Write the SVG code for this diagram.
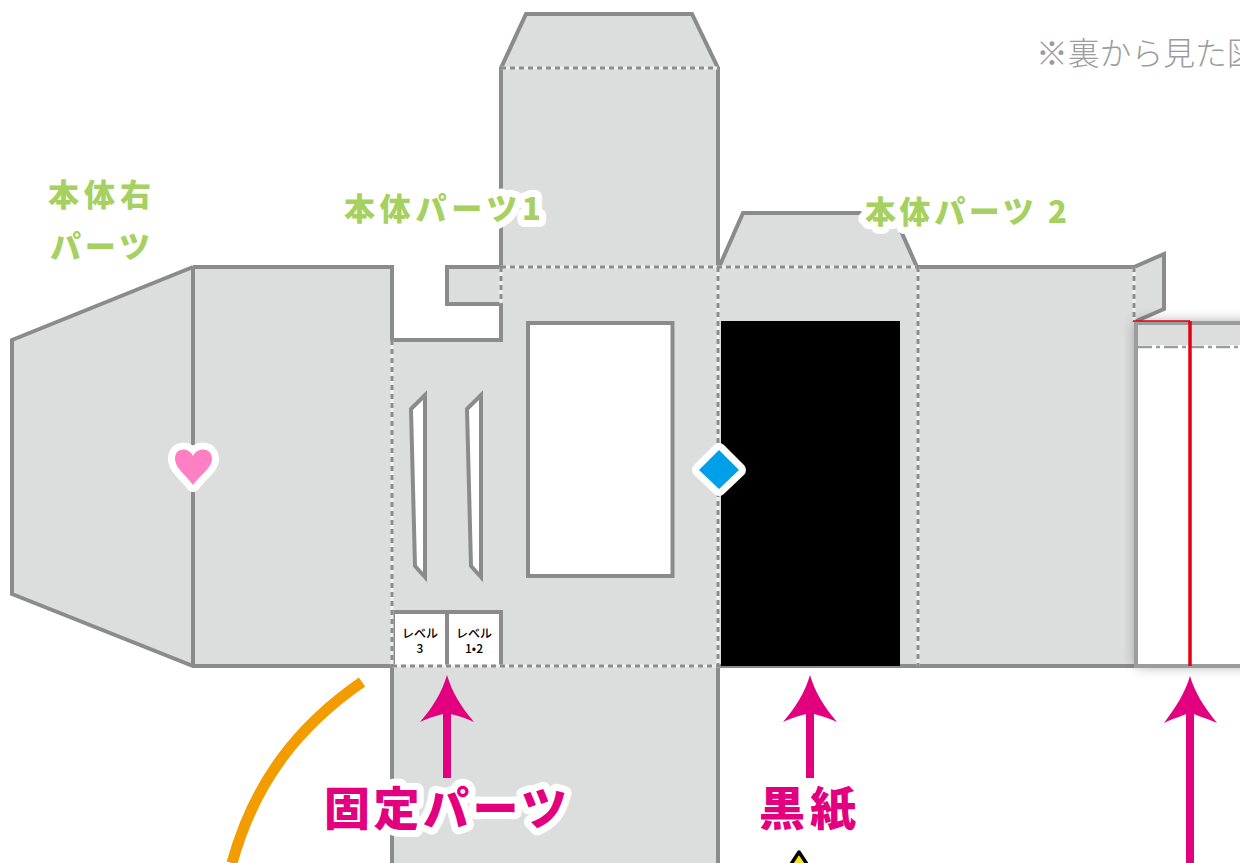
<svg xmlns="http://www.w3.org/2000/svg" width="1240" height="863" viewBox="0 0 1240 863">
<style>
.o{fill:none;stroke:#8b8b8b;stroke-width:4;stroke-linejoin:miter}
.f{fill:#dcdddd}
.w{fill:#fff;stroke:#8b8b8b;stroke-width:4}
.d{fill:none;stroke:#efefef;stroke-width:3}
.d2{fill:none;stroke:#8b8b8b;stroke-width:3;stroke-dasharray:5 4}
.t{font-family:"Noto Sans CJK JP","Noto Sans",sans-serif;font-weight:900}
.g{font-size:31px;fill:#a6d161}
.m{font-size:46px;fill:#e2007f}
.h{stroke:#fff;stroke-width:14px;stroke-linejoin:round;paint-order:stroke}
.a{fill:#e2007f}
.l{font-size:12px;fill:#000;font-weight:500;text-anchor:middle}
</style>
<defs>
<filter id="s" x="-10%" y="-10%" width="120%" height="120%"><feGaussianBlur stdDeviation="7"/></filter>
<path id="ar" d="M0 0C5 17 14 32 27 47C16 42 8 40 4 39V103H-4V39C-8 40 -16 42 -27 47C-14 32 -5 17 0 0Z"/>
</defs>
<g id="body">
<path class="f" d="M12 340L193 267H392V340H501V304H447V267H501V68L526 14H692L718 68V265L743 213H893L917 267H1134L1164 254V309L1134 322V666H718V863H392V666H193L12 594Z"/>
<path class="o" d="M193 267L12 340V594L193 666H392"/>
<path class="o" d="M193 267V666"/>
<path class="o" d="M193 267H392V340H501V304H447V267H501"/>
<path class="o" d="M501 267V68L526 14H692L718 68V265H720L743 213H893L917 267H1134L1164 254V309L1134 322"/>
<path class="o" d="M392 666V863M718 666V863M720 666H1136"/>
</g>
<g id="window"><rect class="w" x="528" y="323" width="144.500" height="253"/></g>
<g id="slit-a"><path class="w" d="M411 409L425 395V577L415 566Z"/></g>
<g id="slit-b"><path class="w" d="M467 409L481 395V577L471 566Z"/></g>
<g id="level-tabs">
<path class="w" d="M393 666V612H501V666"/>
<path class="w" style="fill:none" d="M447 612V666"/>
<text class="t l"><tspan x="420" y="638">レベル</tspan><tspan x="420" y="652.500">3</tspan></text>
<text class="t l"><tspan x="474" y="638">レベル</tspan><tspan x="474" y="652.500">1•2</tspan></text>
</g>
<g id="black-paper"><rect x="721" y="321" width="179" height="345" fill="#000"/></g>
<g id="folds">
<path class="d" d="M501 68H718M392 340V666M501 267H917M501 267V304M718 267V666M918 267V666M392 666H720M1134 267V322"/>
<path class="d2" d="M501 68H718M392 340V666M501 267H917M501 267V304M718 267V666M918 267V666M392 666H720M1134 267V322"/>
</g>
<g id="right-panel">
<rect x="1136" y="322" width="120" height="344" fill="#000" opacity=".35" filter="url(#s)"/>
<rect x="1136" y="322" width="110" height="344" fill="#fff"/>
<rect x="1136" y="322" width="110" height="25" class="f"/>
<path class="o" style="stroke:#9c9c9c" d="M1246 323H1136V666H1246"/>
<path d="M1138 347H1240" stroke="#fff" stroke-width="4"/>
<path d="M1138 347H1240" stroke="#9c9c9c" stroke-width="2.500" stroke-dasharray="14 4 4 4"/>
<path d="M1133 321H1190" stroke="#e60012" stroke-width="1.500"/>
<path d="M1190 321V666" stroke="#e60012" stroke-width="3.500"/>
</g>
<g id="heart-mark">
<path id="heart" d="M193 485C186 475 175 468 175 459C175 447 189 447 193 456C197 447 212 447 212 459C212 468 200 475 193 485Z" fill="#ff7fc4" stroke="#fff" stroke-width="14" stroke-linejoin="round" paint-order="stroke"/>
</g>
<g id="diamond-mark">
<path d="M719 450L739 470L719 489L699 470Z" fill="#009fe8" stroke="#fff" stroke-width="14" stroke-linejoin="round" paint-order="stroke"/>
</g>
<g id="connectors">
<path d="M362 682C300 725 255 780 232 863" fill="none" stroke="#f39c00" stroke-width="11"/>
<use href="#ar" class="a" x="447" y="675"/>
<use href="#ar" class="a" x="810" y="675"/>
<path class="a" d="M1190 676C1195 693 1204 707 1217 723C1206 718 1198 716 1194 714V863H1186V714C1182 716 1174 718 1164 723C1176 707 1185 693 1190 676Z"/>
</g>
<g id="warn"><path d="M799 852L820 884H778Z" fill="#ffe600" stroke="#000" stroke-width="3.500" stroke-linejoin="round"/></g>
<g id="labels">
<text class="t g" x="48" y="206" textLength="103">本体右</text>
<text class="t g" x="50" y="258" textLength="100">パーツ</text>
<text class="t g h" x="344" y="220" textLength="197">本体パーツ1</text>
<text class="t g h" x="865" y="223" textLength="202">本体パーツ 2</text>
<text class="t m h" x="324" y="825" textLength="243">固定パーツ</text>
<text class="t m" x="759" y="825" textLength="97">黒紙</text>
<text x="1036" y="65" font-family="Noto Sans CJK JP,sans-serif" font-size="31.800" font-weight="300" fill="#9c9c9c">※裏から見た図</text>
</g>
</svg>
